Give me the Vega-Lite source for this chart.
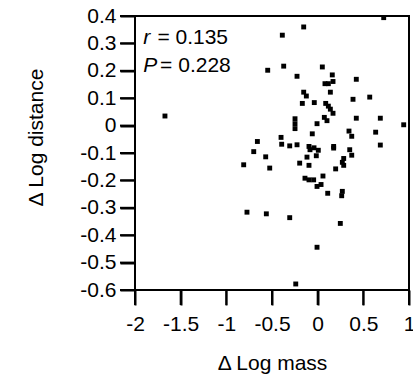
{
  "$schema": "https://vega.github.io/schema/vega-lite/v6.json",
  "width": 274,
  "height": 274,
  "autosize": "none",
  "padding": {"left": 135, "top": 16, "right": 4, "bottom": 94},
  "background": "white",
  "config": {
    "font": "Liberation Sans",
    "view": {"stroke": "black", "strokeWidth": 2}
  },
  "datasets": {
    "pts": [
      {"mass": -1.672, "dist": 0.035},
      {"mass": -0.387, "dist": 0.330},
      {"mass": -0.153, "dist": 0.360},
      {"mass": 0.723, "dist": 0.394},
      {"mass": -0.547, "dist": 0.202},
      {"mass": -0.372, "dist": 0.217},
      {"mass": -0.226, "dist": 0.180},
      {"mass": 0.051, "dist": 0.214},
      {"mass": 0.160, "dist": 0.185},
      {"mass": 0.080, "dist": 0.153},
      {"mass": 0.117, "dist": 0.153},
      {"mass": 0.168, "dist": 0.161},
      {"mass": 0.423, "dist": 0.169},
      {"mass": 0.139, "dist": 0.122},
      {"mass": -0.153, "dist": 0.122},
      {"mass": -0.124, "dist": 0.108},
      {"mass": 0.387, "dist": 0.096},
      {"mass": 0.570, "dist": 0.104},
      {"mass": -0.168, "dist": 0.081},
      {"mass": -0.037, "dist": 0.084},
      {"mass": 0.088, "dist": 0.081},
      {"mass": 0.117, "dist": 0.071},
      {"mass": 0.139, "dist": 0.060},
      {"mass": 0.168, "dist": 0.045},
      {"mass": 0.073, "dist": 0.030},
      {"mass": 0.102, "dist": 0.018},
      {"mass": 0.423, "dist": 0.027},
      {"mass": 0.686, "dist": 0.027},
      {"mass": -0.248, "dist": 0.025},
      {"mass": -0.248, "dist": 0.007},
      {"mass": -0.248, "dist": -0.011},
      {"mass": -0.007, "dist": 0.007},
      {"mass": 0.942, "dist": 0.003},
      {"mass": -0.059, "dist": -0.030},
      {"mass": 0.343, "dist": -0.020},
      {"mass": 0.373, "dist": -0.039},
      {"mass": 0.635, "dist": -0.024},
      {"mass": -0.401, "dist": -0.043},
      {"mass": -0.660, "dist": -0.058},
      {"mass": -0.394, "dist": -0.068},
      {"mass": -0.306, "dist": -0.074},
      {"mass": -0.226, "dist": -0.070},
      {"mass": -0.095, "dist": -0.076},
      {"mass": -0.084, "dist": -0.088},
      {"mass": -0.040, "dist": -0.081},
      {"mass": 0.007, "dist": -0.090},
      {"mass": 0.175, "dist": -0.076},
      {"mass": 0.175, "dist": -0.082},
      {"mass": 0.351, "dist": -0.088},
      {"mass": 0.373, "dist": -0.108},
      {"mass": 0.686, "dist": -0.071},
      {"mass": -0.700, "dist": -0.095},
      {"mass": -0.810, "dist": -0.143},
      {"mass": -0.569, "dist": -0.114},
      {"mass": -0.525, "dist": -0.155},
      {"mass": -0.197, "dist": -0.137},
      {"mass": -0.117, "dist": -0.115},
      {"mass": -0.095, "dist": -0.145},
      {"mass": -0.015, "dist": -0.110},
      {"mass": 0.285, "dist": -0.120},
      {"mass": 0.270, "dist": -0.134},
      {"mass": 0.285, "dist": -0.145},
      {"mass": 0.197, "dist": -0.158},
      {"mass": -0.139, "dist": -0.192},
      {"mass": -0.095, "dist": -0.198},
      {"mass": -0.044, "dist": -0.198},
      {"mass": 0.058, "dist": -0.184},
      {"mass": -0.007, "dist": -0.222},
      {"mass": 0.037, "dist": -0.215},
      {"mass": 0.110, "dist": -0.247},
      {"mass": 0.270, "dist": -0.240},
      {"mass": 0.263, "dist": -0.256},
      {"mass": -0.774, "dist": -0.316},
      {"mass": -0.562, "dist": -0.322},
      {"mass": -0.306, "dist": -0.336},
      {"mass": 0.248, "dist": -0.357},
      {"mass": -0.007, "dist": -0.444},
      {"mass": -0.240, "dist": -0.578}
    ],
    "syms": [
      {"sym": "r", "mass": -1.91, "dist": 0.321},
      {"sym": "P", "mass": -1.91, "dist": 0.217}
    ],
    "vals": [
      {"txt": "= 0.135", "mass": -1.755, "dist": 0.321},
      {"txt": "= 0.228", "mass": -1.725, "dist": 0.217}
    ],
    "xticks": [
      {"mass": -2, "dist": -0.6},
      {"mass": -1.5, "dist": -0.6},
      {"mass": -1, "dist": -0.6},
      {"mass": -0.5, "dist": -0.6},
      {"mass": 0, "dist": -0.6},
      {"mass": 0.5, "dist": -0.6},
      {"mass": 1, "dist": -0.6}
    ],
    "yticks": [
      {"mass": -2, "dist": -0.6},
      {"mass": -2, "dist": -0.5},
      {"mass": -2, "dist": -0.4},
      {"mass": -2, "dist": -0.3},
      {"mass": -2, "dist": -0.2},
      {"mass": -2, "dist": -0.1},
      {"mass": -2, "dist": 0},
      {"mass": -2, "dist": 0.1},
      {"mass": -2, "dist": 0.2},
      {"mass": -2, "dist": 0.3},
      {"mass": -2, "dist": 0.4}
    ]
  },
  "encoding": {
    "x": {
      "field": "mass", "type": "quantitative",
      "scale": {"domain": [-2, 1], "nice": false, "zero": false},
      "axis": {
        "title": "Δ Log mass",
        "values": [-2, -1.5, -1, -0.5, 0, 0.5, 1],
        "grid": false,
        "domain": false,
        "ticks": true,
        "tickColor": "black",
        "tickWidth": 2,
        "tickSize": 15,
        "labelFont": "Liberation Sans",
        "labelFontSize": 21,
        "labelColor": "black",
        "titleFont": "Liberation Sans",
        "titleFontSize": 21,
        "titleFontWeight": "normal",
        "titleColor": "black",
        "labelPadding": 8,
        "titlePadding": 18,
        "labelExpr": "replace(format(datum.value, '~g'), '\u2212', '-')",
        "labelFlush": false,
        "labelOverlap": false
      }
    },
    "y": {
      "field": "dist", "type": "quantitative",
      "scale": {"domain": [-0.6, 0.4], "nice": false, "zero": false},
      "axis": {
        "title": "Δ Log distance",
        "values": [-0.6, -0.5, -0.4, -0.3, -0.2, -0.1, 0, 0.1, 0.2, 0.3, 0.4],
        "grid": false,
        "domain": false,
        "ticks": true,
        "tickColor": "black",
        "tickWidth": 2,
        "tickSize": 15,
        "labelFont": "Liberation Sans",
        "labelFontSize": 21,
        "labelColor": "black",
        "titleFont": "Liberation Sans",
        "titleFontSize": 21,
        "titleFontWeight": "normal",
        "titleColor": "black",
        "labelPadding": 4,
        "titlePadding": 33,
        "titleY": 121,
        "labelExpr": "replace(format(datum.value, '~g'), '\u2212', '-')",
        "labelFlush": false,
        "labelOverlap": false
      }
    }
  },
  "layer": [
    {
      "data": {"name": "xticks"},
      "mark": {"type": "tick", "orient": "vertical", "size": 15, "thickness": 2, "yOffset": 7.5, "color": "black", "opacity": 1}
    },
    {
      "data": {"name": "yticks"},
      "mark": {"type": "tick", "orient": "horizontal", "size": 15, "thickness": 2, "xOffset": -7.5, "color": "black", "opacity": 1}
    },
    {
      "data": {"name": "pts"},
      "mark": {"type": "point", "shape": "square", "filled": true, "color": "black", "opacity": 1, "size": 24}
    },
    {
      "data": {"name": "syms"},
      "mark": {"type": "text", "align": "left", "baseline": "middle", "fontSize": 21, "fontStyle": "italic", "font": "Liberation Sans", "color": "black"},
      "encoding": {"text": {"field": "sym"}}
    },
    {
      "data": {"name": "vals"},
      "mark": {"type": "text", "align": "left", "baseline": "middle", "fontSize": 21, "font": "Liberation Sans", "color": "black"},
      "encoding": {"text": {"field": "txt"}}
    }
  ]
}
